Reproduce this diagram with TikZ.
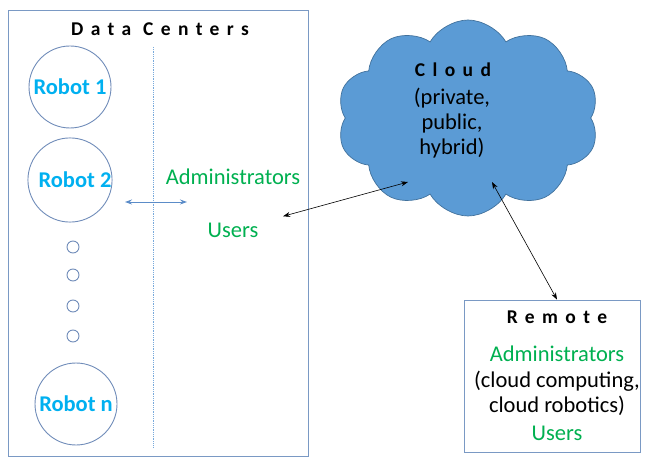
\documentclass[tikz,border=0pt]{standalone}
\usepackage{fontspec}
\setmainfont{Carlito}
\newfontfamily\wideface[LetterSpace=38]{Carlito}
\usetikzlibrary{shapes.symbols,arrows.meta}
\definecolor{dcframe}{RGB}{122,153,196}
\definecolor{dcring}{RGB}{112,140,185}
\definecolor{dcdash}{RGB}{120,170,220}
\definecolor{dcrobot}{RGB}{0,176,240}
\definecolor{dcgreen}{RGB}{0,176,80}
\definecolor{dccloud}{RGB}{91,155,213}
\definecolor{dccloudline}{RGB}{65,113,156}
\definecolor{dcarrow}{RGB}{91,140,200}

\tikzset{
  robot/.style={circle, draw=dcring, line width=0.9pt, minimum size=82pt,
    inner sep=0pt, font=\fontsize{22.5}{26}\selectfont\bfseries, text=dcrobot},
  dot/.style={circle, draw=dcring, line width=0.9pt, minimum size=12pt, inner sep=0pt},
  who/.style={font=\fontsize{22.5}{26}\selectfont, text=dcgreen},
  plain/.style={font=\fontsize{22.5}{26}\selectfont, align=center},
  heading/.style={font=\fontsize{19.5}{22}\selectfont\wideface\bfseries},
  frame/.style={draw=dcframe, line width=0.9pt, inner sep=0pt},
  link/.style={{Stealth[length=7pt,width=5pt]}-{Stealth[length=7pt,width=5pt]}, line width=0.6pt}
}

\begin{document}
\begin{tikzpicture}[x=1pt, y=-1pt]
    \useasboundingbox (0,0) rectangle (648,462);
    \node[frame, minimum width=300pt, minimum height=446pt] (dc) at (158,233) {};
    \node[heading] (dctitle) at (160,29) {Data Centers};
    \draw[dcdash, densely dotted, line width=0.8pt] (153,47) -- (153,447);

    \node[robot] (r1) at (70,87) {Robot 1};
    \node[robot] (r2) at (70,180) {\hspace*{10pt}Robot 2};
    \node[dot] (d1) at (73,247) {};
    \node[dot] (d2) at (73,275) {};
    \node[dot] (d3) at (73,306) {};
    \node[dot] (d4) at (73,336) {};
    \node[robot] (rn) at (76,404) {Robot n};

    \node[who] (admin) at (233,177) {Administrators};
    \node[who] (users) at (233,230) {Users};
    \coordinate (la) at (125,202);
    \coordinate (lb) at (187,202);
    \draw[link, dcarrow, line width=0.9pt] (la) -- (lb);

    \node[cloud, cloud puffs=10, cloud puff arc=120, aspect=1.35, fill=dccloud,
      draw=dccloudline, line width=0.7pt, minimum width=262pt, minimum height=196pt]
      (cloud) at (468,118) {};
    \node[heading] (cloudtitle) at (453,70) {Cloud};
    \node[plain] (cloudkind) at (452,123) {(private,\\[-1pt]public,\\[-1pt]hybrid)};
    \coordinate (cin1) at (408,182);
    \coordinate (cin2) at (492,182);

    \node[frame, minimum width=176pt, minimum height=152pt] (remote) at (552,376) {};
    \node[heading] (remotetitle) at (557,317) {Remote};
    \node[who] (radmin) at (557,354) {Administrators};
    \node[plain] (rkind) at (557,393) {(cloud computing,\\[-1pt]cloud robotics)};
    \node[who] (rusers) at (557,433) {Users};

    \draw[link, shorten <=22pt] (users) -- (cin1);
    \draw[link] (cin2) -- ([xshift=5pt]remote.north);
  \end{tikzpicture}
\end{document}
